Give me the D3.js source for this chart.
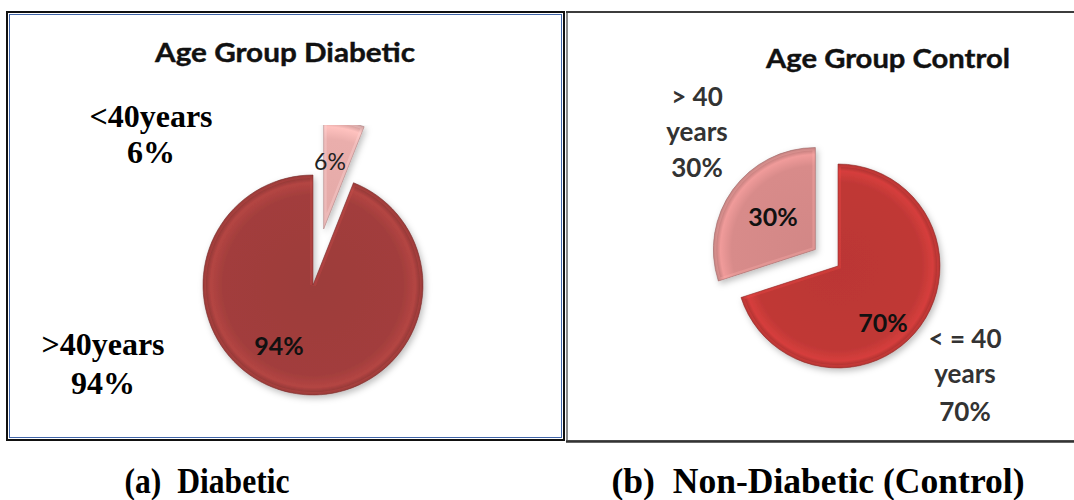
<!DOCTYPE html>
<html>
<head>
<meta charset="utf-8">
<script src="https://cdn.jsdelivr.net/npm/d3@7"></script>
<style>
  body { margin: 0; background: #fff; }
  svg { display: block; }
</style>
</head>
<body>
<svg id="chart" width="1074" height="500"></svg>
<script>
// Age-group split of the diabetic group, clockwise from 12 o'clock
const diabeticGroups = ["<40years", ">40years"];
const diabeticShares = [6, 94];

// Age-group split of the non-diabetic control group, clockwise from 12 o'clock
const controlGroups = ["< = 40 years", "> 40 years"];
const controlShares = [70, 30];

const panelTitles = ["Age Group Diabetic", "Age Group Control"];
const captions = ["(a)  Diabetic", "(b)  Non-Diabetic (Control)"];

const svg = d3.select("#chart");
const defs = svg.append("defs");

// soft shadow under the pies
const shadow = defs.append("filter").attr("id", "pieShadow")
  .attr("x", "-20%").attr("y", "-20%").attr("width", "140%").attr("height", "140%");
shadow.append("feDropShadow")
  .attr("dx", 2).attr("dy", 3).attr("stdDeviation", 3)
  .attr("flood-color", "#000").attr("flood-opacity", 0.25);

// ---- panel frames ----
// left frame: black outer line with a blue inner line
svg.append("rect").attr("x", 7).attr("y", 12).attr("width", 557).attr("height", 428)
  .attr("fill", "#fff").attr("stroke", "#111").attr("stroke-width", 2);
svg.append("rect").attr("x", 9.5).attr("y", 14.5).attr("width", 552).attr("height", 423)
  .attr("fill", "none").attr("stroke", "#3f64a8").attr("stroke-width", 1);
// right frame: grey with a darker top and bottom edge
svg.append("rect").attr("x", 567).attr("y", 12).attr("width", 520).attr("height", 429)
  .attr("fill", "#fff").attr("stroke", "#8a8a8a").attr("stroke-width", 2);
svg.append("line").attr("x1", 566).attr("x2", 1074).attr("y1", 12).attr("y2", 12)
  .attr("stroke", "#222").attr("stroke-width", 1.5);
svg.append("line").attr("x1", 566).attr("x2", 1074).attr("y1", 441.5).attr("y2", 441.5)
  .attr("stroke", "#333").attr("stroke-width", 2.5);

const clip = defs.append("clipPath").attr("id", "leftPlot");
clip.append("rect").attr("x", 10).attr("y", 125).attr("width", 550).attr("height", 312);

const panels = [
  {
    id: "diab", names: diabeticGroups, values: diabeticShares,
    cx: 313, cy: 285, r: 110, explode: [57, 0],
    colors: ["#eaaeac", "#a23e3c"],
    clip: "url(#leftPlot)",
    title: { x: 285, y: 62, len: 260 },
    inner: [
      { x: 330, y: 170, size: 23, weight: 400, color: "#222" },
      { x: 279, y: 355, size: 25, weight: 700, color: "#111" }
    ],
    outer: [
      { x: 151, ys: [127, 163] },
      { x: 103, ys: [355, 394] }
    ],
    outerFont: { family: "'Liberation Serif', 'Times New Roman', serif", size: 32, color: "#000" },
    splitYears: false
  },
  {
    id: "ctrl", names: controlGroups, values: controlShares,
    cx: 838, cy: 266, r: 102, explode: [0, 28],
    colors: ["#c03836", "#d88b8a"],
    clip: null,
    title: { x: 888, y: 68, len: 244 },
    inner: [
      { x: 883, y: 332, size: 25, weight: 700, color: "#111" },
      { x: 773, y: 226, size: 25, weight: 700, color: "#111" }
    ],
    outer: [
      { x: 965, ys: [348, 383, 421] },
      { x: 697, ys: [106, 141, 177] }
    ],
    outerFont: { family: "Lato, 'Open Sans', sans-serif", size: 26, color: "#333" },
    splitYears: true
  }
];

const pie = d3.pie().sort(null).startAngle(0).endAngle(2 * Math.PI);

panels.forEach(p => {
  const arcs = pie(p.values);
  const arc = d3.arc().innerRadius(0).outerRadius(p.r);

  const g = svg.append("g");
  if (p.clip) g.attr("clip-path", p.clip);
  const pg = g.append("g").attr("filter", "url(#pieShadow)");

  arcs.forEach((a, i) => {
    const mid = (a.startAngle + a.endAngle) / 2;
    const ox = p.cx + p.explode[i] * Math.sin(mid);
    const oy = p.cy - p.explode[i] * Math.cos(mid);
    const base = d3.color(p.colors[i]);

    // bevelled look: flat centre, light rim, dark outline
    // (gradient lives in the slice's own translated coordinates)
    const gid = `grad-${p.id}-${i}`;
    const grad = defs.append("radialGradient").attr("id", gid)
      .attr("gradientUnits", "userSpaceOnUse")
      .attr("cx", 0).attr("cy", 0).attr("r", p.r);
    grad.append("stop").attr("offset", 0).attr("stop-color", base.darker(0.08));
    grad.append("stop").attr("offset", 0.82).attr("stop-color", base);
    grad.append("stop").attr("offset", 0.93).attr("stop-color", base.brighter(0.3));
    grad.append("stop").attr("offset", 1).attr("stop-color", base.darker(0.6));

    const cid = `clip-${p.id}-${i}`;
    defs.append("clipPath").attr("id", cid).append("path").attr("d", arc(a));

    const sg = pg.append("g").attr("transform", `translate(${ox},${oy})`);
    sg.append("path").attr("d", arc(a)).attr("fill", `url(#${gid})`);
    // light inner edge along the straight sides
    sg.append("path").attr("d", arc(a))
      .attr("clip-path", `url(#${cid})`)
      .attr("fill", "none").attr("stroke", base.brighter(0.7))
      .attr("stroke-width", 6).attr("stroke-opacity", 0.3);
    sg.append("path").attr("d", arc(a))
      .attr("fill", "none").attr("stroke", base.darker(0.9))
      .attr("stroke-width", 0.8).attr("stroke-opacity", 0.7);
  });

  // value labels on the slices
  arcs.forEach((a, i) => {
    const s = p.inner[i];
    svg.append("text").attr("x", s.x).attr("y", s.y)
      .attr("text-anchor", "middle")
      .attr("font-family", "Lato, 'Open Sans', sans-serif")
      .attr("font-size", s.size).attr("font-weight", s.weight)
      .attr("fill", s.color)
      .text(`${a.data}%`);
  });

  // category labels outside the pie
  arcs.forEach((a, i) => {
    const o = p.outer[i];
    const name = p.names[i];
    const lines = p.splitYears
      ? [name.replace(/ years$/, ""), "years", `${a.data}%`]
      : [name, `${a.data}%`];
    const t = svg.append("text")
      .attr("text-anchor", "middle")
      .attr("font-family", p.outerFont.family)
      .attr("font-size", p.outerFont.size)
      .attr("font-weight", 700)
      .attr("fill", p.outerFont.color);
    lines.forEach((ln, k) => {
      t.append("tspan").attr("x", o.x).attr("y", o.ys[k]).text(ln);
    });
  });
});

// chart titles
panels.forEach((p, i) => {
  svg.append("text").attr("x", p.title.x).attr("y", p.title.y)
    .attr("text-anchor", "middle")
    .attr("font-family", "Lato, 'Open Sans', sans-serif")
    .attr("font-size", 27).attr("font-weight", 700).attr("fill", "#111")
    .attr("stroke", "#111").attr("stroke-width", 0.4)
    .attr("textLength", p.title.len).attr("lengthAdjust", "spacingAndGlyphs")
    .text(panelTitles[i]);
});

// figure captions
const capPos = [{ x: 207, len: 165 }, { x: 818, len: 413 }];
captions.forEach((c, i) => {
  svg.append("g").attr("transform", `translate(${capPos[i].x},493) scale(1,1.22)`)
    .append("text")
    .attr("text-anchor", "middle")
    .attr("font-family", "'Liberation Serif', 'Times New Roman', serif")
    .attr("font-size", 29).attr("font-weight", 700).attr("fill", "#000")
    .attr("xml:space", "preserve").style("white-space", "pre")
    .attr("textLength", capPos[i].len).attr("lengthAdjust", "spacingAndGlyphs")
    .text(c);
});
</script>
</body>
</html>
